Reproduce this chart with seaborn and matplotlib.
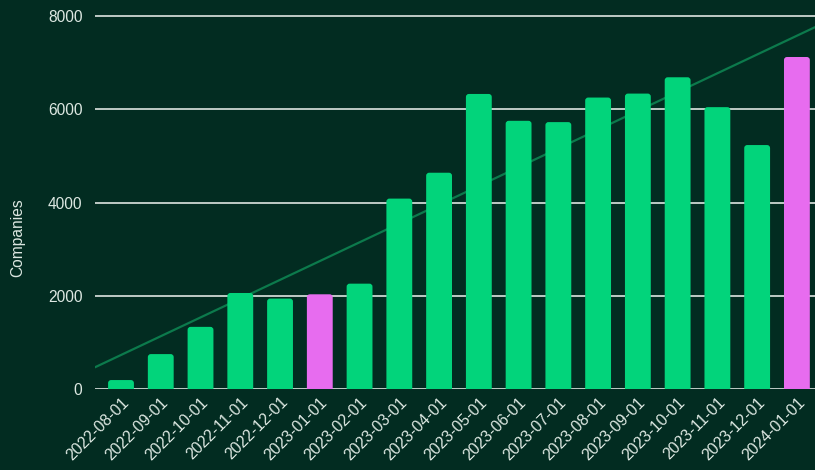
import numpy as np
import pandas as pd
import matplotlib
matplotlib.use("Agg")
import matplotlib.pyplot as plt
from matplotlib.patches import FancyBboxPatch
import seaborn as sns

# Monthly count of companies
months = ["2022-08-01", "2022-09-01", "2022-10-01", "2022-11-01", "2022-12-01",
          "2023-01-01", "2023-02-01", "2023-03-01", "2023-04-01", "2023-05-01",
          "2023-06-01", "2023-07-01", "2023-08-01", "2023-09-01", "2023-10-01",
          "2023-11-01", "2023-12-01", "2024-01-01"]
companies = [192, 749, 1333, 2060, 1940, 2032, 2260, 4085, 4640, 6330,
             5754, 5726, 6253, 6338, 6688, 6047, 5234, 7123]
y_ticks = [0, 2000, 4000, 6000, 8000]

BG = "#022c21"
GREEN = "#02d47b"
PINK = "#e76cef"
TREND = "#0c7a4c"
GRID = "#dfe6e2"
TEXT = "#dde8e2"

sns.set_theme(style="white")
plt.rcParams["font.family"] = ["Liberation Sans", "DejaVu Sans"]

df = pd.DataFrame({"month": months, "companies": companies})
# January bars are highlighted
bar_colors = [PINK if m.endswith("-01-01") else GREEN for m in months]

W, H = 815, 470
fig = plt.figure(figsize=(W / 100, H / 100), dpi=100, facecolor=BG)
left, right, top, bottom = 95, 815, 15, 389
ax = fig.add_axes([left / W, 1 - bottom / H, (right - left) / W, (bottom - top) / H])
ax.set_facecolor(BG)

sns.barplot(data=df, x="month", y="companies", hue="month",
            palette=bar_colors, legend=False, width=0.65, ax=ax,
            saturation=1, zorder=3)

ax.set_xlim(-0.654, 17.455)
ax.set_ylim(0, 8000 * 1.003)

# swap plain rectangles for bars with rounded tops
px_x = (ax.get_xlim()[1] - ax.get_xlim()[0]) / (right - left)
px_y = (ax.get_ylim()[1] - ax.get_ylim()[0]) / (bottom - top)
r = 3 * px_x
for bar in list(ax.patches):
    x0, w, h = bar.get_x(), bar.get_width(), bar.get_height()
    fc = bar.get_facecolor()
    bar.remove()
    rounded = FancyBboxPatch((x0, -10 * px_y), w, h + 10 * px_y,
                             boxstyle=f"round,pad=0,rounding_size={r}",
                             mutation_aspect=px_y / px_x,
                             facecolor=fc, edgecolor="none", zorder=3)
    ax.add_patch(rounded)

# linear trend across the full width, behind the bars
sns.regplot(x=np.arange(len(companies)), y=companies, scatter=False, ci=None,
            truncate=False, ax=ax,
            line_kws={"color": TREND, "linewidth": 1.6, "zorder": 2})
ax.set_xlim(-0.654, 17.455)

ax.set_yticks(y_ticks)
ax.set_yticklabels([str(v) for v in y_ticks])
ax.yaxis.grid(True, color=GRID, linewidth=1.2, zorder=0)
ax.xaxis.grid(False)
ax.set_axisbelow(True)
for s in ax.spines.values():
    s.set_visible(False)

ax.tick_params(axis="y", length=0, pad=9, labelsize=11.2, labelcolor=TEXT)
ax.tick_params(axis="x", length=0, pad=4, labelsize=11.4, labelcolor=TEXT)
for lab in ax.get_xticklabels():
    lab.set_rotation(45)
    lab.set_ha("right")
    lab.set_va("top")
    lab.set_rotation_mode("anchor")

ax.set_xlabel("")
ax.set_ylabel("")
fig.text(18 / W, 1 - 238 / H, "Companies", rotation=90, ha="center",
         va="center", fontsize=11.2, color=TEXT)

fig.savefig("out.png", dpi=100, facecolor=BG)
